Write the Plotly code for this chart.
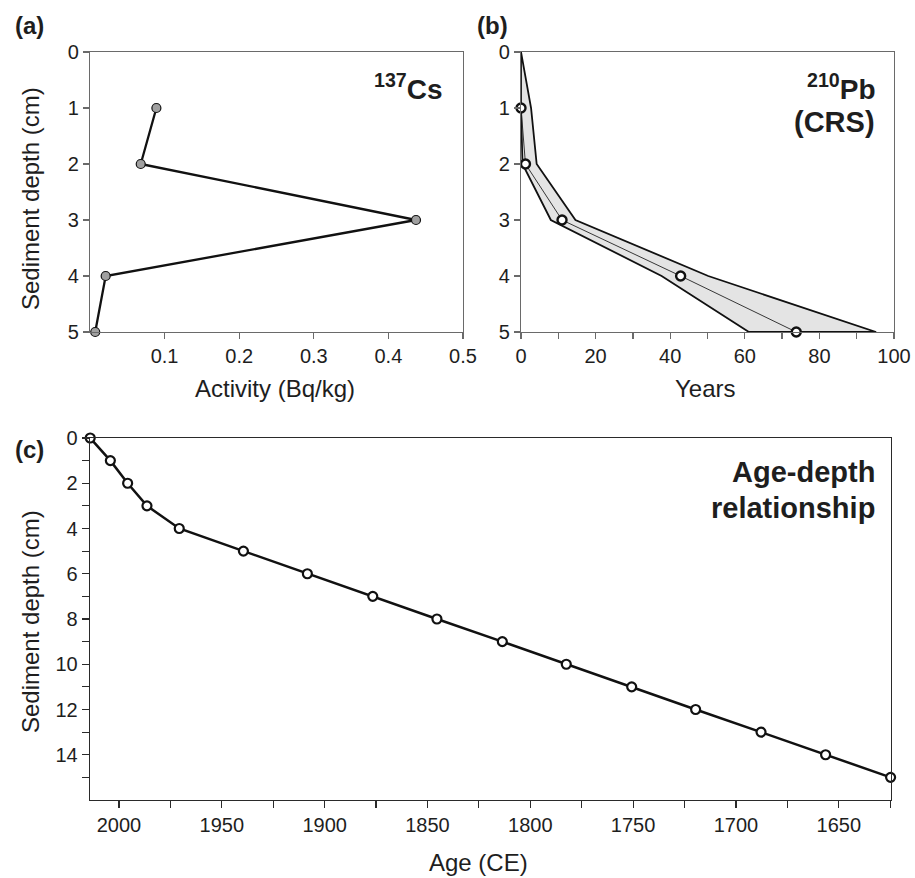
import plotly.graph_objects as go

# ---------------- data ----------------
# (a) 137Cs activity profile
cs_depth = [1, 2, 3, 4, 5]
cs_activity = [0.089, 0.068, 0.437, 0.021, 0.007]

# (b) 210Pb CRS ages with uncertainty envelope
pb_depth = [1, 2, 3, 4, 5]
pb_years = [0.0, 1.2, 11.0, 42.8, 73.8]
env_depth = [0, 1, 2, 3, 4, 5]
env_upper = [0.0, 2.7, 4.2, 14.6, 50.2, 95.2]
env_lower = [0.0, 0.0, 0.4, 8.0, 37.7, 61.1]

# (c) age-depth relationship
ad_depth = [0, 1, 2, 3, 4, 5, 6, 7, 8, 9, 10, 11, 12, 13, 14, 15]
ad_age = [2014.0, 2004.2, 1995.8, 1986.4, 1970.7, 1939.5, 1908.4, 1876.6,
          1845.4, 1813.6, 1782.5, 1750.7, 1719.6, 1687.8, 1656.4, 1624.8]

# tick labels
a_xticks = [0.1, 0.2, 0.3, 0.4, 0.5]
a_xlabels = ["0.1", "0.2", "0.3", "0.4", "0.5"]
ab_yticks = [0, 1, 2, 3, 4, 5]
ab_ylabels = ["0", "1", "2", "3", "4", "5"]
b_xticks = [0, 20, 40, 60, 80, 100]
b_xlabels = ["0", "20", "40", "60", "80", "100"]
b_xminor = [10, 30, 50, 70, 90]
c_xticks = [2000, 1950, 1900, 1850, 1800, 1750, 1700, 1650]
c_xlabels = ["2000", "1950", "1900", "1850", "1800", "1750", "1700", "1650"]
c_xminor = [1975, 1925, 1875, 1825, 1775, 1725, 1675, 1625]
c_yticks = [0, 2, 4, 6, 8, 10, 12, 14]
c_ylabels = ["0", "2", "4", "6", "8", "10", "12", "14"]
c_yminor = [1, 3, 5, 7, 9, 11, 13, 15]

FONT = "Liberation Sans, Arial, sans-serif"
TXT = "#1e1e1e"
W, H = 915, 878


def px_x(p):
    return p / W


def px_y(p):
    return 1 - p / H


fig = go.Figure()

# (a)
fig.add_trace(go.Scatter(
    x=cs_activity, y=cs_depth, mode="lines+markers", xaxis="x", yaxis="y",
    line=dict(color="#111111", width=2.3),
    marker=dict(size=9, color="#a0a0a0", line=dict(color="#111111", width=1.2)),
    cliponaxis=False, showlegend=False, hoverinfo="skip"))

# (b) envelope
poly_x = env_upper + env_lower[::-1]
poly_y = env_depth + env_depth[::-1]
fig.add_trace(go.Scatter(
    x=poly_x, y=poly_y, mode="lines", fill="toself", fillcolor="#e4e4e4",
    line=dict(color="#111111", width=1.8), xaxis="x2", yaxis="y2",
    cliponaxis=False, showlegend=False, hoverinfo="skip"))
fig.add_trace(go.Scatter(
    x=pb_years, y=pb_depth, mode="lines", xaxis="x2", yaxis="y2",
    line=dict(color="#222222", width=0.9), showlegend=False, hoverinfo="skip"))
fig.add_trace(go.Scatter(
    x=pb_years, y=pb_depth, mode="markers", xaxis="x2", yaxis="y2",
    marker=dict(size=9, color="white", line=dict(color="#111111", width=2.4)),
    cliponaxis=False, showlegend=False, hoverinfo="skip"))

# (c)
fig.add_trace(go.Scatter(
    x=ad_age, y=ad_depth, mode="lines+markers", xaxis="x3", yaxis="y3",
    line=dict(color="#111111", width=2.5),
    marker=dict(size=9, color="white", line=dict(color="#111111", width=2.2)),
    cliponaxis=False, showlegend=False, hoverinfo="skip"))

tickfont = dict(family=FONT, size=20, color=TXT)
gray_axis = dict(showline=True, linecolor="#6a6a6a", linewidth=1.2, mirror=True,
                 ticks="outside", ticklen=6, tickcolor="#6a6a6a", tickwidth=1.2,
                 showgrid=False, zeroline=False, tickfont=tickfont, fixedrange=True,
                 automargin=False, ticklabeloverflow="allow")
dark_axis = dict(showline=True, linecolor="#2a2a2a", linewidth=1.3, mirror=True,
                 ticks="outside", ticklen=7, tickcolor="#2a2a2a", tickwidth=1.2,
                 showgrid=False, zeroline=False, tickfont=tickfont, fixedrange=True,
                 automargin=False, ticklabeloverflow="allow")

dom_a = [px_x(90), px_x(463)]
dom_b = [px_x(521), px_x(894)]
dom_c = [px_x(90), px_x(891)]
dom_ab_y = [px_y(332), px_y(52)]
dom_c_y = [px_y(800), px_y(438)]

fig.update_layout(
    width=W, height=H, margin=dict(l=0, r=0, t=0, b=0, autoexpand=False),
    paper_bgcolor="white", plot_bgcolor="white",
    font=dict(family=FONT, color=TXT),
    xaxis=dict(**gray_axis, domain=dom_a, anchor="y", range=[0, 0.5],
               tickmode="array", tickvals=a_xticks, ticktext=a_xlabels),
    yaxis=dict(**gray_axis, domain=dom_ab_y, anchor="x", range=[5, 0],
               tickmode="array", tickvals=ab_yticks, ticktext=ab_ylabels),
    xaxis2=dict(**gray_axis, domain=dom_b, anchor="y2", range=[0, 100],
                tickmode="array", tickvals=b_xticks, ticktext=b_xlabels,
                minor=dict(tickmode="array", tickvals=b_xminor, ticks="outside",
                           ticklen=6, tickcolor="#6a6a6a", tickwidth=1.2, showgrid=False)),
    yaxis2=dict(**gray_axis, domain=dom_ab_y, anchor="x2", range=[5, 0],
                tickmode="array", tickvals=ab_yticks, ticktext=ab_ylabels),
    xaxis3=dict(**dark_axis, domain=dom_c, anchor="y3", range=[2014.1, 1624.6],
                tickmode="array", tickvals=c_xticks, ticktext=c_xlabels,
                minor=dict(tickmode="array", tickvals=c_xminor, ticks="outside",
                           ticklen=7, tickcolor="#2a2a2a", tickwidth=1.2, showgrid=False)),
    yaxis3=dict(**dark_axis, domain=dom_c_y, anchor="x3", range=[16, 0],
                tickmode="array", tickvals=c_yticks, ticktext=c_ylabels,
                minor=dict(tickmode="array", tickvals=c_yminor, ticks="outside",
                           ticklen=7, tickcolor="#2a2a2a", tickwidth=1.2, showgrid=False)),
)

ann = []


def add_text(text, x, y, size, bold=False, xanchor="center", yanchor="middle", angle=0):
    ann.append(dict(
        text=f"<b>{text}</b>" if bold else text,
        x=px_x(x), y=px_y(y), xref="paper", yref="paper",
        xanchor=xanchor, yanchor=yanchor, showarrow=False, textangle=angle,
        font=dict(family=FONT, size=size, color=TXT)))


# panel labels
add_text("(a)", 13, 26, 24, bold=True, xanchor="left")
add_text("(b)", 475, 26, 24, bold=True, xanchor="left")
add_text("(c)", 13, 449, 24, bold=True, xanchor="left")

# axis titles
add_text("Activity (Bq/kg)", 275, 388, 24)
add_text("Years", 705, 388, 24)
add_text("Age (CE)", 478, 862, 24)
add_text("Sediment depth (cm)", 30, 199, 24, angle=-90)
add_text("Sediment depth (cm)", 30, 622, 24, angle=-90)

# in-panel labels
add_text("<sup>137</sup>Cs", 445, 87, 28, bold=True, xanchor="right")
add_text("<sup>210</sup>Pb", 877, 87, 28, bold=True, xanchor="right")
add_text("(CRS)", 877, 122, 29, bold=True, xanchor="right")
add_text("Age-depth", 877, 472, 29, bold=True, xanchor="right")
add_text("relationship", 877, 508, 29, bold=True, xanchor="right")

fig.update_layout(annotations=ann)

# remove the default 8px page margin so the figure fills the window exactly
fig.write_html("out.html",
               config={"displayModeBar": False, "staticPlot": True},
               post_script="document.body.style.margin='0';"
                           "document.body.style.overflow='hidden';")
